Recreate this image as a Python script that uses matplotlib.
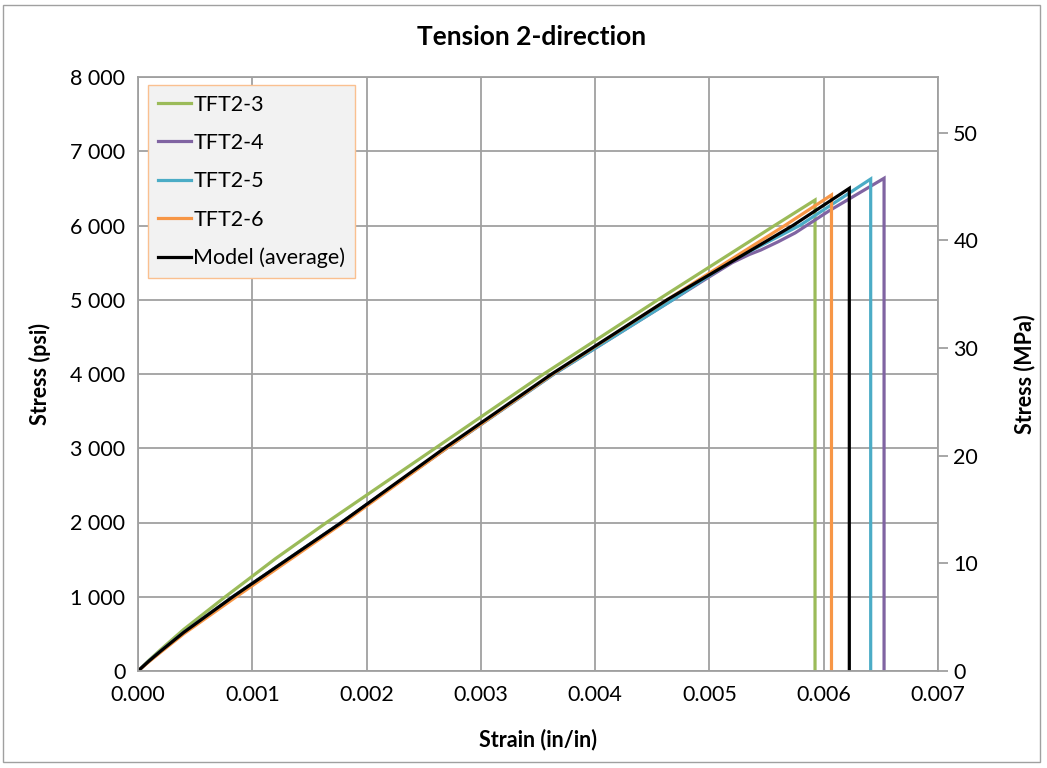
import matplotlib
matplotlib.use("Agg")
import matplotlib.pyplot as plt
from matplotlib.ticker import FuncFormatter, MultipleLocator
from matplotlib.patches import Rectangle

plt.rcParams['font.family'] = ['Lato', 'DejaVu Sans']

# ---- data (strain in/in, stress psi) ----
tft3_strain = [0, 0.0001, 0.0002, 0.0004, 0.000764, 0.0012, 0.00165, 0.0026, 0.00355, 0.00455, 0.00557, 0.005924, 0.005924]
tft3_stress = [0, 150, 290, 560, 1000, 1510, 2000, 3000, 4000, 5000, 6000, 6343, 0]

tft4_strain = [0, 0.0001, 0.0002, 0.0004, 0.00083, 0.00178, 0.0027, 0.00364, 0.00468, 0.0050, 0.0052, 0.00535, 0.00545, 0.00560, 0.00575, 0.00605, 0.006528, 0.006528]
tft4_stress = [0, 140, 270, 520, 1000, 2000, 3000, 4000, 5000, 5310, 5500, 5610, 5670, 5780, 5900, 6200, 6636, 0]

tft5_strain = [0, 0.0001, 0.0002, 0.0004, 0.00083, 0.00178, 0.0027, 0.00364, 0.00468, 0.0052, 0.00579, 0.006411, 0.006411]
tft5_stress = [0, 140, 270, 520, 1000, 2000, 3000, 4000, 5000, 5530, 6000, 6626, 0]

tft6_strain = [0, 0.0001, 0.0002, 0.0004, 0.00086, 0.0018, 0.0027, 0.00363, 0.00463, 0.00566, 0.006068, 0.006068]
tft6_stress = [0, 130, 255, 500, 1000, 2000, 3000, 4000, 5000, 6000, 6411, 0]

model_strain = [0, 0.0001, 0.0002, 0.0004, 0.00083, 0.00178, 0.00268, 0.00362, 0.00463, 0.00573, 0.006224, 0.006224]
model_stress = [0, 140, 270, 520, 1000, 2000, 3000, 4000, 5000, 6000, 6501, 0]

series_names = ["TFT2-3", "TFT2-4", "TFT2-5", "TFT2-6", "Model (average)"]
series_colors = ["#9bbb59", "#8064a2", "#4bacc6", "#f79646", "#000000"]
PSI_PER_MPA = 145.038

fig = plt.figure(figsize=(10.47, 7.68), dpi=100)
ax = fig.add_axes([138/1047, 1-671/768, 800/1047, 594/768])

data = [(tft3_strain, tft3_stress), (tft4_strain, tft4_stress), (tft5_strain, tft5_stress),
        (tft6_strain, tft6_stress), (model_strain, model_stress)]
for (xs, ys), name, c in zip(data, series_names, series_colors):
    ax.plot(xs, ys, color=c, lw=2.3, label=name, solid_joinstyle='miter')

ax.set_xlim(0, 0.007)
ax.set_ylim(0, 8000)
ax.xaxis.set_major_locator(MultipleLocator(0.001))
ax.yaxis.set_major_locator(MultipleLocator(1000))
ax.xaxis.set_major_formatter(FuncFormatter(lambda v, p: f"{v:.3f}"))
ax.yaxis.set_major_formatter(FuncFormatter(lambda v, p: f"{int(round(v)):,}".replace(",", " ")))
ax.grid(True, color="#a0a0a0", lw=1.3)
ax.set_axisbelow(True)
for s in ax.spines.values():
    s.set_color("#a0a0a0")
    s.set_linewidth(1.3)
ax.tick_params(axis='x', length=0, labelsize=15.5, pad=10)
ax.tick_params(axis='y', length=0, labelsize=15.5, pad=9)

ax2 = ax.twinx()
ax2.set_ylim(0, 8000 / PSI_PER_MPA)
ax2.yaxis.set_major_locator(MultipleLocator(10))
ax2.tick_params(axis='y', length=7, color="#a0a0a0", width=1.3, labelsize=15.5, pad=4)
for s in ax2.spines.values():
    s.set_visible(False)

ax.set_xlabel("Strain (in/in)", fontsize=15.5, fontweight='bold', va='center')
ax.xaxis.set_label_coords(0.5, -(740-671)/594)
ax.set_ylabel("Stress (psi)", fontsize=15.5, fontweight='bold', va='center')
ax.yaxis.set_label_coords((40-138)/800, 0.5)
ax2.set_ylabel("Stress (MPa)", fontsize=15.5, fontweight='bold', va='center')
ax2.yaxis.set_label_coords((1025-138)/800, 0.5)

fig.text(532/1047, 1-37/768, "Tension 2-direction", fontsize=19, fontweight='bold',
         ha='center', va='center')

leg = ax.legend(loc='upper left', bbox_to_anchor=(10/800, 1-8/594), fontsize=15.5,
                handlelength=1.55, handletextpad=0.1, labelspacing=0.85,
                borderpad=0.45, borderaxespad=0, frameon=True, fancybox=False)
leg.get_frame().set_facecolor("#f2f2f2")
leg.get_frame().set_edgecolor("#fac090")
leg.get_frame().set_linewidth(1.0)
leg.get_frame().set_alpha(1)

fig.patches.append(Rectangle((3/1047, 6/768), 1037/1047, 757/768, transform=fig.transFigure,
                             fill=False, edgecolor="#a0a0a0", lw=1.0))

fig.savefig("out.png", dpi=100)
